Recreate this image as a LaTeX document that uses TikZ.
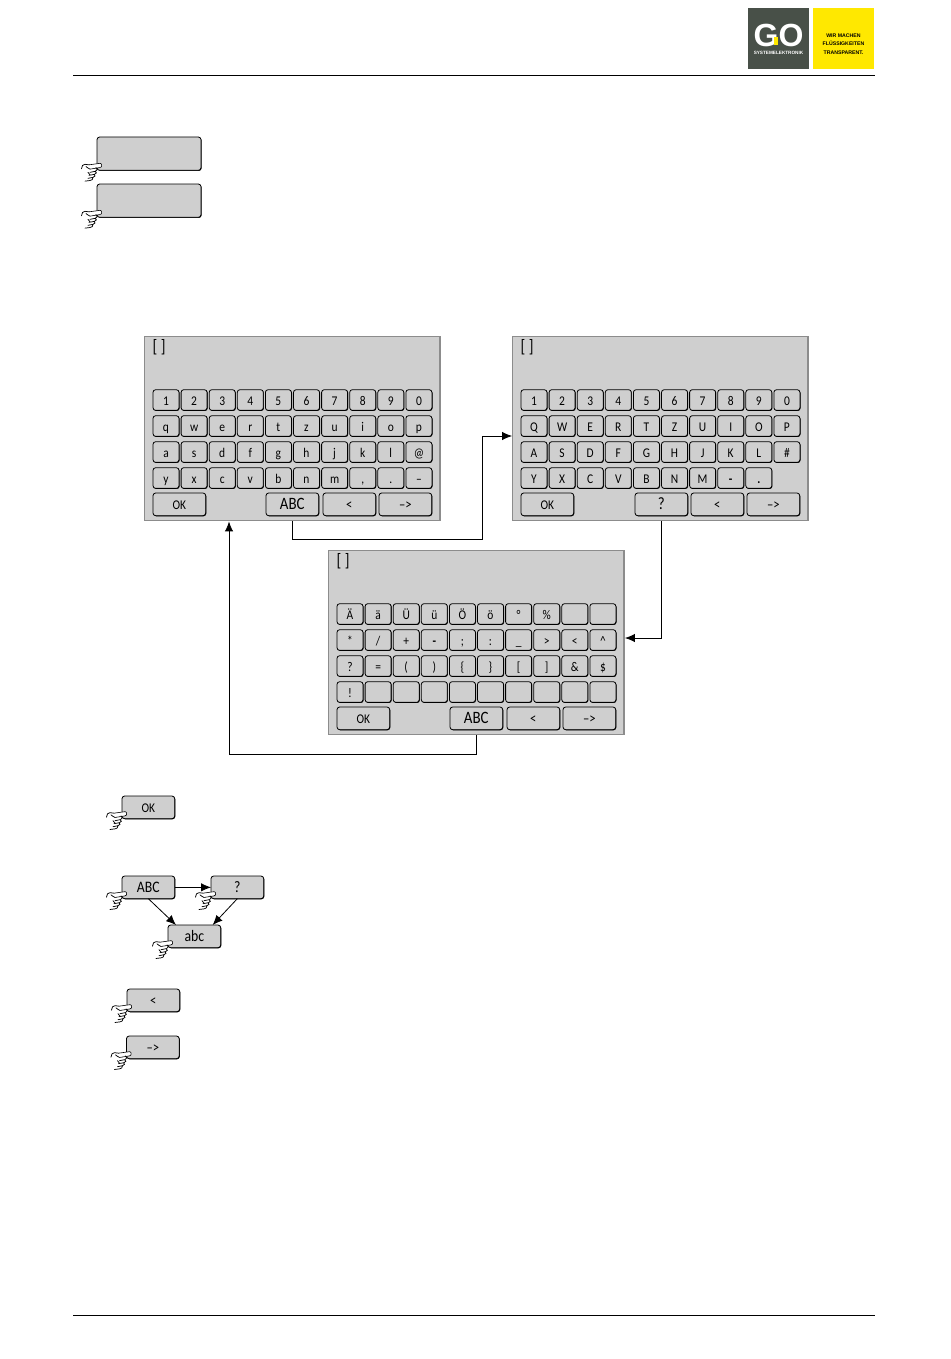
\documentclass[tikz,border=0pt]{standalone}
\usepackage{fontspec}
\setmainfont[FakeStretch=0.86]{Carlito}
\newfontfamily\logofont{Liberation Sans}
\usetikzlibrary{arrows.meta,shadows}
\definecolor{panelgrey}{RGB}{207,207,207}
\definecolor{logodark}{RGB}{72,80,72}
\definecolor{logoyellow}{RGB}{255,232,0}
\newcommand{\keyrow}[3]{% name, top, labels
  \foreach \k [count=\i from 0] in {#3}
    \node[key] (#1-\i) at ({153+28.1*\i},#2+.7) {\k};}
\begin{document}
\begin{tikzpicture}[x=.75pt,y=-.75pt,font=\fontsize{10}{12}\selectfont,
  >={Latex[length=2.6mm,width=2.2mm]},
  btn/.style={draw=black,line width=.6pt,rounded corners=2pt,fill=panelgrey,anchor=north west,
              inner sep=0pt,outer sep=0pt,text height=8pt,text depth=0pt,
              general shadow={fill=black,shadow xshift=.45pt,shadow yshift=-.45pt}},
  key/.style={btn,minimum width=19.5pt,minimum height=15.5pt},
  widekey/.style={btn,minimum width=39.5pt,minimum height=17pt},
  bigkey/.style={btn,minimum width=78pt,minimum height=25pt},
  screen/.style={draw=black!45,line width=1.1pt,fill=panelgrey,anchor=north west,inner sep=0pt,
              minimum width=221.5pt,minimum height=138pt},
  bracket/.style={anchor=west,font=\fontsize{13.5}{14}\selectfont},
  bigtext/.style={font=\fontsize{13}{14}\selectfont},
  midtext/.style={font=\fontsize{12}{14}\selectfont},
  signtext/.style={font=\fontsize{11}{14}\selectfont},
  rule/.style={line width=.7pt},
  link/.style={->,line width=.6pt},
  hand/.pic={
    \draw[line width=.45pt,fill=white,line join=round]
      (-8,-5.5) -- (3,-7) .. controls (5,-7.2) and (5.5,-3) .. (3,-2.8) -- (-7,-1.2);
    \draw[line width=.55pt,line cap=round]
      (-15.5,-1.5) .. controls (-15.5,-4) and (-14,-6.5) .. (-12,-6)
        .. controls (-10.5,-5.8) and (-9.5,-5.2) .. (-8,-5.5)
      (-11,-3.8) .. controls (-10,-3) and (-8.5,-1.8) .. (-7,-1.2)
      (-1,-2.8) .. controls (.8,-2) and (.6,.6) .. (-1.5,.9) -- (-7,2)
      (-2,.9) .. controls (0,1.6) and (-.2,3.6) .. (-2.5,4) -- (-8,5)
      (-3,4) .. controls (-1.5,4.8) and (-1.5,6.6) .. (-4,7) -- (-9,8)
      (-4,7) .. controls (-4,9) and (-5,10) .. (-7,10.2) -- (-12,10.8)
      (-9,2) -- (-7,4.5);
  }]
 \useasboundingbox (0,0) rectangle (950,1359);
 % page head and foot
 \coordinate (headL) at (73,75); \coordinate (headR) at (875,75);
 \coordinate (footL) at (73,1315); \coordinate (footR) at (875,1315);
 \draw[rule] (headL) -- (headR);
 \draw[rule] (footL) -- (footR);
 % logo
 \node[fill=logodark,minimum size=45.75pt,inner sep=0pt,anchor=north west] (logoD) at (748,8) {};
 \node[fill=logoyellow,minimum size=45.75pt,inner sep=0pt,anchor=north west] (logoY) at (813,8) {};
 \node[white,font=\logofont\bfseries\fontsize{24}{24}\selectfont,inner sep=0pt] (logoGo) at (778.5,35) {GO};
 \node[fill=logoyellow,minimum width=2.4pt,minimum height=5.5pt,inner sep=0pt] (logoDot) at (776,41) {};
 \node[white,font=\logofont\bfseries\fontsize{3.5}{4}\selectfont,inner sep=0pt] (logoSub) at (778.5,53) {SYSTEMELEKTRONIK};
 \node[align=center,font=\logofont\bfseries\fontsize{3.9}{6.4}\selectfont,inner sep=0pt,text=black] (logoTag) at (843.5,44)
   {WIR MACHEN\\FLÜSSIGKEITEN\\TRANSPARENT.};
 % blank buttons on top
 \node[bigkey] (topA) at (97,137) {};
 \node[bigkey] (topB) at (97,184) {};
 \pic at (topA.south west) {hand};
 \pic at (topB.south west) {hand};
 % lower case keyboard
 \begin{scope}
  \node[screen] (scrA) at (144,336) {};
  \node[bracket] (brA) at (148,347.5) {[ ]};
  \keyrow{numA}{389}{1,2,3,4,5,6,7,8,9,0}
  \keyrow{qA}{415}{q,w,e,r,t,z,u,i,o,p}
  \keyrow{aA}{441}{a,s,d,f,g,h,j,k,l,@}
  \keyrow{yA}{467}{y,x,c,v,b,n,m,{,},.,–}
  \node[widekey] (okA) at (153,493) {OK};
  \node[widekey,bigtext] (abcA) at (266,493) {ABC};
  \node[widekey,signtext] (ltA) at (323,493) {<};
  \node[widekey,signtext] (rtA) at (379,493) {–>};
 \end{scope}
 % upper case keyboard
 \begin{scope}[shift={(368,0)}]
  \node[screen] (scrB) at (144,336) {};
  \node[bracket] (brB) at (148,347.5) {[ ]};
  \keyrow{numB}{389}{1,2,3,4,5,6,7,8,9,0}
  \keyrow{qB}{415}{Q,W,E,R,T,Z,U,I,O,P}
  \keyrow{aB}{441}{A,S,D,F,G,H,J,K,L,\#}
  \keyrow{yB}{467}{Y,X,C,V,B,N,M,\textbf{-},\textbf{.}}
  \node[widekey] (okB) at (153,493) {OK};
  \node[widekey,bigtext] (qmB) at (267,493) {?};
  \node[widekey,signtext] (ltB) at (323,493) {<};
  \node[widekey,signtext] (rtB) at (379,493) {–>};
 \end{scope}
 % special characters keyboard
 \begin{scope}[shift={(184,214)}]
  \node[screen] (scrC) at (144,336) {};
  \node[bracket] (brC) at (148,347.5) {[ ]};
  \keyrow{numC}{389}{Ä,ä,Ü,ü,Ö,ö,°,\%,{},{}}
  \keyrow{qC}{415}{*,/,+,\textbf{-},;,:,\_,>,<,\^{}}
  \keyrow{aC}{441}{?,=,{(},{)},\{,\},[,],\&,\$}
  \keyrow{yC}{467}{!,{},{},{},{},{},{},{},{},{}}
  \node[widekey] (okC) at (153,493) {OK};
  \node[widekey,bigtext] (abcC) at (266,493) {ABC};
  \node[widekey,signtext] (ltC) at (323,493) {<};
  \node[widekey,signtext] (rtC) at (379,493) {–>};
 \end{scope}
 % links between keyboards
 \coordinate (turnA) at (482,539); \coordinate (inB) at (512,436);
 \coordinate (inC) at (625,638);
 \coordinate (turnC) at (229,754); \coordinate (inA) at (229,521.5);
 \draw[link] (abcA.south |- scrA.south) |- (turnA) |- (inB);
 \draw[link] (qmB.south |- scrB.south) |- (inC);
 \draw[link] (abcC.south |- scrC.south) |- (turnC) -- (inA);
 % key legend
 \node[widekey] (okL) at (122,796) {OK};
 \node[widekey,midtext] (abcL) at (122,876) {ABC};
 \node[widekey,midtext] (qmL) at (211,876) {?};
 \node[widekey,midtext] (lowL) at (168,925) {abc};
 \node[widekey,signtext] (ltL) at (127,989) {<};
 \node[widekey,signtext] (rtL) at (126.5,1036) {–>};
 \draw[link] (abcL.east) -- (qmL.west);
 \draw[link] (abcL.south) -- ([xshift=6pt]lowL.north west);
 \draw[link] (qmL.south) -- ([xshift=-6pt]lowL.north east);
 \pic at (okL.south west) {hand};
 \pic at (abcL.south west) {hand};
 \pic at (qmL.south west) {hand};
 \pic at (lowL.south west) {hand};
 \pic at (ltL.south west) {hand};
 \pic at (rtL.south west) {hand};
\end{tikzpicture}
\end{document}
